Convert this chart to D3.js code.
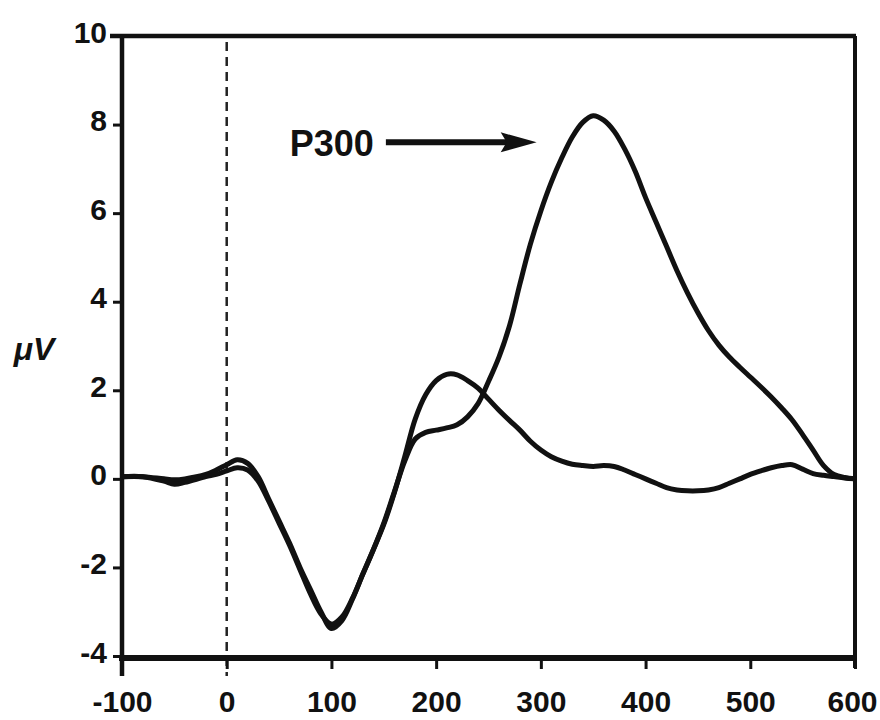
<!DOCTYPE html>
<html>
<head>
<meta charset="utf-8">
<script src="https://cdn.jsdelivr.net/npm/d3@7"></script>
<style>
  body { margin: 0; background: #fff; }
  svg text { font-family: "Liberation Sans", Arial, sans-serif; font-weight: bold; fill: #111; }
</style>
</head>
<body>
<div id="erp-graph" width="880" height="720"></div>
<script>
// time points (ms)
var times = [-100, -80, -60, -50, -40, -20, -10, 0, 10, 20, 30, 40, 50, 60, 70, 80, 90, 100,
  110, 120, 130, 140, 150, 160, 170, 180, 190, 200, 210, 220, 230, 240, 250, 260, 270, 280,
  290, 300, 310, 320, 330, 340, 350, 360, 370, 380, 390, 400, 410, 420, 430, 440, 450, 460,
  470, 480, 490, 500, 510, 520, 530, 540, 550, 560, 570, 580, 590, 600];

// frequent stimulus wave (uV)
var standardWave = [0.05, 0.05, 0.0, -0.02, 0.0, 0.1, 0.2, 0.32, 0.43, 0.35, 0.05, -0.45, -0.95, -1.45, -2.0, -2.5, -3.0, -3.38,
  -3.2, -2.72, -2.15, -1.6, -1.03, -0.32, 0.5, 1.35, 1.9, 2.22, 2.36, 2.35, 2.22, 2.05, 1.8, 1.55, 1.32, 1.1,
  0.85, 0.65, 0.5, 0.4, 0.33, 0.3, 0.28, 0.3, 0.28, 0.2, 0.1, 0.0, -0.1, -0.2, -0.25, -0.27, -0.27, -0.25,
  -0.2, -0.1, 0.0, 0.1, 0.18, 0.25, 0.3, 0.32, 0.22, 0.12, 0.08, 0.05, 0.02, 0.0];

// rare stimulus wave with P300 (uV)
var rareWave = [0.05, 0.05, -0.05, -0.12, -0.08, 0.05, 0.1, 0.18, 0.25, 0.2, -0.05, -0.5, -1.0, -1.5, -2.05, -2.6, -3.05, -3.28,
  -3.12, -2.7, -2.15, -1.6, -1.0, -0.3, 0.4, 0.9, 1.05, 1.1, 1.15, 1.22, 1.4, 1.7, 2.2, 2.75, 3.45, 4.4,
  5.3, 6.05, 6.7, 7.25, 7.72, 8.05, 8.2, 8.1, 7.85, 7.45, 6.95, 6.35, 5.8, 5.25, 4.7, 4.2, 3.75, 3.35,
  3.02, 2.75, 2.52, 2.3, 2.08, 1.85, 1.6, 1.33, 1.0, 0.65, 0.3, 0.1, 0.03, 0.0];

var xTicks = [-100, 0, 100, 200, 300, 400, 500, 600];
var yTicks = [-4, -2, 0, 2, 4, 6, 8, 10];

// annotation: label + arrow pointing at the P300 peak
var peakLabel = "P300";
var arrowStart = [152, 7.6];
var arrowEnd = [296, 7.6];

function drawErpChart(){
    var width = 880, height = 720;
    var margin = {top: 36, right: 25, bottom: 64, left: 122};

    var svg = d3.select('#erp-graph')
        .append('svg')
        .attr('width', width)
        .attr('height', height);

    var x = d3.scaleLinear()
        .domain([-100, 600])
        .range([margin.left, width - margin.right]);

    var y = d3.scaleLinear()
        .domain([-4, 10])
        .range([height - margin.bottom, margin.top]);

    // frame: top and right lines
    svg.append('line')
        .attr('x1', x(-100) - 12).attr('x2', x(600) + 1)
        .attr('y1', y(10)).attr('y2', y(10))
        .attr('stroke', '#111').attr('stroke-width', 4.5);
    svg.append('line')
        .attr('x1', x(600)).attr('x2', x(600))
        .attr('y1', y(10)).attr('y2', y(-4) + 12)
        .attr('stroke', '#111').attr('stroke-width', 4);

    // stimulus onset
    svg.append('line')
        .attr('x1', x(0)).attr('x2', x(0))
        .attr('y1', y(10) + 6).attr('y2', y(-4) + 20)
        .attr('stroke', '#222').attr('stroke-width', 2.5)
        .attr('stroke-dasharray', '9,6');

    // axes
    var fmt = function(d){ return String(d); };
    var yAxis = svg.append('g')
        .attr('transform', 'translate(' + x(-100) + ',0)')
        .call(d3.axisLeft(y).tickValues(yTicks).tickFormat(fmt).tickSize(9).tickSizeOuter(0).tickPadding(6));
    yAxis.select('.domain').attr('stroke', '#111').attr('stroke-width', 4.5)
        .attr('d', 'M0,' + y(10) + 'V' + (y(-4) + 20));
    yAxis.selectAll('.tick line').attr('stroke', '#111').attr('stroke-width', 3);
    yAxis.selectAll('.tick text').style('font-size', '30px').attr('dy', '0.2em');

    var xAxis = svg.append('g')
        .attr('transform', 'translate(0,' + (y(-4) + 2) + ')')
        .call(d3.axisBottom(x).tickValues(xTicks).tickFormat(fmt).tickSize(11).tickSizeOuter(0).tickPadding(22));
    xAxis.select('.domain').attr('stroke', '#111').attr('stroke-width', 6)
        .attr('d', 'M' + (x(-100) - 3) + ',0H' + (x(600) + 2));
    xAxis.selectAll('.tick line').attr('stroke', '#111').attr('stroke-width', 3);
    xAxis.selectAll('.tick text').style('font-size', '30px')
        .attr('dx', function(d){ return d === 600 ? '-3' : null; });

    svg.append('text')
        .attr('x', 34).attr('y', 360)
        .attr('text-anchor', 'middle')
        .style('font-size', '32px')
        .style('font-style', 'italic')
        .text('μV');

    // waves
    var line = d3.line()
        .x(function(d){ return x(d[0]); })
        .y(function(d){ return y(d[1]); })
        .curve(d3.curveCatmullRom.alpha(0.5));

    [standardWave, rareWave].forEach(function(wave){
        svg.append('path')
            .datum(d3.zip(times, wave))
            .attr('d', line)
            .attr('fill', 'none')
            .attr('stroke', '#111')
            .attr('stroke-width', 5)
            .attr('stroke-linejoin', 'round');
    });

    // P300 label and arrow
    svg.append('text')
        .attr('x', x(arrowStart[0]) - 12)
        .attr('y', y(arrowStart[1]) + 14)
        .attr('text-anchor', 'end')
        .style('font-size', '36px')
        .text(peakLabel);
    svg.append('line')
        .attr('x1', x(arrowStart[0])).attr('x2', x(arrowEnd[0]) - 20)
        .attr('y1', y(arrowStart[1])).attr('y2', y(arrowEnd[1]))
        .attr('stroke', '#111').attr('stroke-width', 6);
    var tx = x(arrowEnd[0]), ty = y(arrowEnd[1]);
    svg.append('path')
        .attr('d', 'M' + tx + ',' + ty + 'L' + (tx - 36) + ',' + (ty - 10) +
            'L' + (tx - 30) + ',' + ty + 'L' + (tx - 36) + ',' + (ty + 10) + 'Z')
        .attr('fill', '#111');
}

drawErpChart();
</script>
</body>
</html>
